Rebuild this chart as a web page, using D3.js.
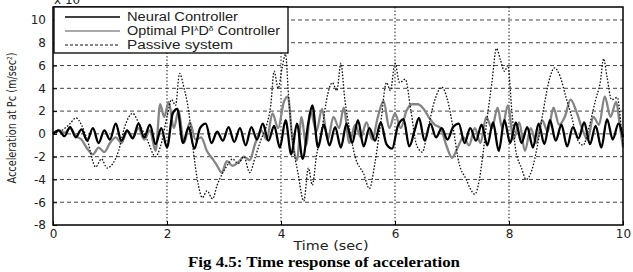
<!DOCTYPE html>
<html>
<head>
<meta charset="utf-8">
<script src="https://cdn.jsdelivr.net/npm/d3@7"></script>
<style>
  body { margin: 0; background: #fff; }
  svg { display: block; }
  .tick text { font-family: "DejaVu Sans", sans-serif; font-size: 12px; fill: #222; }
</style>
</head>
<body>
<div id="chart"></div>
<script>
// Time response of acceleration (x 10^-3)

// Tick labels
let xTicks = [0, 2, 4, 6, 8, 10];
let yTicks = [-8, -6, -4, -2, 0, 2, 4, 6, 8, 10];

// Series names
let seriesNames = ["Neural Controller", "Optimal PI", "Passive system"];

// Neural controller [time, value]
let neural = [
  [0, 0], [0.1, 0.3], [0.2, -0.2], [0.3, 0.6], [0.4, -0.3], [0.5, 0.4], [0.6, -0.6], [0.7, 0.5],
  [0.8, -0.8], [0.9, 0.3], [1.0, -0.5], [1.1, 0.9], [1.2, -0.6], [1.3, 0.3], [1.4, -0.4], [1.5, 0.9],
  [1.6, -0.3], [1.7, 0.8], [1.8, -0.9], [1.9, 0.5], [2.0, -1.2], [2.1, 1.8], [2.18, 2.2], [2.28, -0.8],
  [2.38, 0.6], [2.48, -1.3], [2.58, 0.5], [2.68, 0.9], [2.78, -0.8], [2.88, 0.2], [2.98, -0.6], [3.08, 0.6],
  [3.18, -0.7], [3.28, 0.5], [3.38, -1.0], [3.48, 0.6], [3.58, -0.5], [3.68, 0.9], [3.78, -0.6], [3.88, 0.7],
  [3.98, -1.2], [4.08, 1.2], [4.18, -1.8], [4.28, 0.9], [4.38, -2.2], [4.48, 1.0], [4.55, 2.5], [4.65, -1.2],
  [4.75, 0.8], [4.85, -1.0], [4.95, 0.6], [5.05, -1.2], [5.15, 0.9], [5.25, -0.8], [5.35, 1.2], [5.45, -1.1],
  [5.55, 0.5], [5.65, -0.6], [5.75, 1.0], [5.85, -0.9], [5.95, -1.3], [6.05, 0.7], [6.15, 1.3], [6.25, -1.1],
  [6.35, 0.4], [6.42, 1.4], [6.52, -0.6], [6.62, 0.9], [6.72, -0.3], [6.82, 0.5], [6.92, -0.5], [7.02, 0.6],
  [7.12, 0.9], [7.22, -0.8], [7.32, 0.5], [7.42, -0.6], [7.52, 0.8], [7.62, -1.0], [7.72, 1.0], [7.82, -1.5],
  [7.92, 1.2], [8.02, -0.8], [8.12, 1.0], [8.22, -0.8], [8.32, 0.6], [8.42, -1.2], [8.52, 0.9], [8.62, -0.9],
  [8.72, 1.2], [8.82, -0.6], [8.92, 0.8], [9.02, -1.1], [9.12, 0.6], [9.22, -0.4], [9.32, 1.0], [9.42, -0.9],
  [9.52, 0.7], [9.62, -1.2], [9.72, 1.3], [9.82, -0.5], [9.92, 0.9], [10, -0.3]
];

// Optimal fractional PID controller [time, value]
let optimal = [
  [0, 0], [0.1, 0.3], [0.2, 0.1], [0.3, 0.5], [0.4, -0.2], [0.5, -0.5], [0.6, -1.3], [0.7, -1.8],
  [0.8, -1.2], [0.9, -1.6], [1.0, -0.8], [1.1, -0.3], [1.2, -0.8], [1.3, 0.2], [1.4, -0.3], [1.5, 0.5],
  [1.6, -0.5], [1.7, 0.3], [1.8, -1.5], [1.88, 2.6], [1.95, 1.5], [2.03, 2.8], [2.12, 0.5], [2.2, 2.0],
  [2.3, -0.8], [2.4, 1.0], [2.5, -0.5], [2.6, -0.3], [2.7, -1.5], [2.8, -2.2], [2.88, -2.8], [2.96, -3.4],
  [3.05, -2.4], [3.15, -2.8], [3.25, -2.5], [3.35, -2.0], [3.45, -2.3], [3.55, -0.8], [3.65, 0.3], [3.75, -0.5],
  [3.85, 1.8], [3.95, 0.5], [4.05, 2.8], [4.12, 3.3], [4.2, -0.5], [4.28, -2.3], [4.36, 1.5], [4.44, -1.0],
  [4.52, 2.0], [4.62, 0.2], [4.72, 2.2], [4.82, -0.5], [4.92, 1.5], [5.02, 0.5], [5.1, 2.3], [5.2, -0.8],
  [5.3, 0.8], [5.4, -0.3], [5.5, 1.0], [5.6, -0.5], [5.7, 1.5], [5.8, 2.9], [5.9, 0.5], [6.0, 1.8],
  [6.1, 0.5], [6.2, 2.0], [6.3, 2.6], [6.4, 2.6], [6.5, 2.2], [6.6, 1.4], [6.7, 0.8], [6.8, 0.5],
  [6.9, -1.0], [7.0, -2.1], [7.1, -1.2], [7.2, -0.3], [7.3, -1.0], [7.4, 0.5], [7.5, -0.8], [7.6, 1.5],
  [7.7, 0.5], [7.8, 2.3], [7.88, 0.5], [7.98, 2.5], [8.08, -0.5], [8.18, 1.0], [8.28, -1.5], [8.38, 0.5],
  [8.48, -0.8], [8.58, 1.2], [8.68, 0.2], [8.78, 2.3], [8.88, 0.8], [8.98, 1.5], [9.08, 3.0], [9.18, 2.0],
  [9.28, 0.5], [9.38, -0.5], [9.48, 1.5], [9.58, 0.8], [9.68, 3.3], [9.78, 1.5], [9.88, 2.8], [9.95, 0.5],
  [10, -1.2]
];

// Passive system [time, value]
let passive = [
  [0, 0], [0.15, 0.3], [0.3, 0.9], [0.4, 1.4], [0.5, 0.8], [0.6, -0.5], [0.75, -2.9], [0.85, -2.2],
  [0.95, -3.0], [1.05, -2.6], [1.15, -1.5], [1.25, 0.5], [1.4, 1.8], [1.5, 1.0], [1.65, -0.5], [1.8, -2.0],
  [1.88, -1.2], [2.0, 1.5], [2.08, 3.0], [2.15, 2.5], [2.22, 5.3], [2.3, 4.0], [2.38, 2.0], [2.45, -1.0],
  [2.55, -4.5], [2.62, -5.6], [2.7, -5.0], [2.8, -5.7], [2.88, -4.5], [2.98, -3.4], [3.08, -2.6], [3.15, -2.2],
  [3.25, -2.6], [3.35, -2.0], [3.45, -3.4], [3.55, -2.0], [3.65, -0.5], [3.75, 0.8], [3.82, 2.5], [3.88, 5.5],
  [3.95, 4.0], [4.02, 5.8], [4.08, 7.0], [4.13, 3.5], [4.2, -0.5], [4.3, -3.5], [4.4, -5.9], [4.48, -3.0],
  [4.55, -4.5], [4.62, -2.0], [4.72, 0.5], [4.82, 3.5], [4.9, 4.5], [4.98, 3.8], [5.05, 6.2], [5.12, 3.0],
  [5.2, 0.5], [5.3, -2.0], [5.45, -3.5], [5.55, -4.8], [5.65, -2.5], [5.75, 1.0], [5.85, 4.5], [5.92, 3.8],
  [6.0, 6.2], [6.08, 4.5], [6.18, 4.8], [6.28, 2.0], [6.38, -1.0], [6.48, -1.6], [6.58, 0.5], [6.7, 3.0],
  [6.82, 4.1], [6.92, 3.0], [7.02, 0.5], [7.12, -2.5], [7.25, -4.0], [7.32, -4.8], [7.4, -5.3], [7.48, -4.0],
  [7.55, -1.5], [7.62, 1.5], [7.7, 4.5], [7.78, 7.5], [7.85, 6.5], [7.92, 5.5], [7.98, 6.0], [8.05, 2.0],
  [8.12, -1.5], [8.22, -3.0], [8.3, -4.0], [8.4, -3.2], [8.5, -1.0], [8.6, 2.0], [8.72, 5.0], [8.8, 5.8],
  [8.9, 5.0], [9.0, 3.2], [9.1, 1.5], [9.2, -0.5], [9.3, -1.0], [9.4, 0.5], [9.52, 3.0], [9.6, 4.5],
  [9.66, 6.6], [9.72, 5.0], [9.8, 3.0], [9.9, 3.2], [9.97, 0.5], [10, -1.0]
];

// Set up chart
let svgWidth = 633;
let svgHeight = 272;

let margin = { top: 7, right: 10, bottom: 47, left: 53 };
let width = 623 - margin.left;
let height = 225 - margin.top;

let svg = d3.select("#chart")
    .append("svg")
    .attr("width", svgWidth)
    .attr("height", svgHeight);

let chartGroup = svg.append("g")
    .attr("transform", `translate(${margin.left}, ${margin.top})`);

// Scales
let xScale = d3.scaleLinear().domain([0, 10]).range([0, width]);
let yScale = d3.scaleLinear().domain([-8, 11.14]).range([height, 0]);

// Grid lines
chartGroup.append("g")
    .selectAll("line")
    .data(yTicks.filter(d => d > -8))
    .join("line")
    .attr("x1", 0).attr("x2", width)
    .attr("y1", d => yScale(d)).attr("y2", d => yScale(d))
    .attr("stroke", "#444").attr("stroke-width", 1)
    .attr("stroke-dasharray", "4,3");

chartGroup.append("g")
    .selectAll("line")
    .data(xTicks.filter(d => d > 0 && d < 10))
    .join("line")
    .attr("x1", d => xScale(d)).attr("x2", d => xScale(d))
    .attr("y1", 0).attr("y2", height)
    .attr("stroke", "#333").attr("stroke-width", 1.1)
    .attr("stroke-dasharray", "1.5,2");

// Lines
let line = d3.line()
    .x(d => xScale(d[0]))
    .y(d => yScale(d[1]))
    .curve(d3.curveMonotoneX);

chartGroup.append("path")
    .datum(optimal)
    .attr("d", line)
    .attr("fill", "none")
    .attr("stroke", "#858585")
    .attr("stroke-width", 2.3);

chartGroup.append("path")
    .datum(neural)
    .attr("d", line)
    .attr("fill", "none")
    .attr("stroke", "#000")
    .attr("stroke-width", 2.3);

chartGroup.append("path")
    .datum(passive)
    .attr("d", line)
    .attr("fill", "none")
    .attr("stroke", "#111")
    .attr("stroke-width", 1.3)
    .attr("stroke-dasharray", "1.6,1.6");

// Axes
let bottomAxis = d3.axisBottom(xScale).tickValues(xTicks).tickSize(-4).tickPadding(4).tickFormat(d3.format("d"));
let leftAxis = d3.axisLeft(yScale).tickValues(yTicks).tickSize(-4).tickPadding(7).tickFormat(d3.format("d"));

let xAxisG = chartGroup.append("g")
    .attr("transform", `translate(0, ${height})`)
    .call(bottomAxis);
xAxisG.select(".domain").remove();
xAxisG.selectAll(".tick line").attr("stroke", "#000");

let yAxisG = chartGroup.append("g")
    .call(leftAxis);
yAxisG.select(".domain").remove();
yAxisG.selectAll(".tick line").attr("stroke", "#000");
yAxisG.selectAll(".tick text").text(d => d < 0 ? "-" + Math.abs(d) : d);

// Box
chartGroup.append("rect")
    .attr("x", 0).attr("y", 0)
    .attr("width", width).attr("height", height)
    .attr("fill", "none")
    .attr("stroke", "#000")
    .attr("stroke-width", 1.5);

// Legend
let legend = chartGroup.append("g");
legend.append("rect")
    .attr("x", 1).attr("y", 0)
    .attr("width", 234).attr("height", 46)
    .attr("fill", "#fff")
    .attr("stroke", "#000")
    .attr("stroke-width", 1.3);

let legendStyles = [
    { color: "#000", w: 1.6, dash: null, len: 111 },
    { color: "#8c8c8c", w: 1.3, dash: null, len: 153 },
    { color: "#111", w: 1, dash: "3,2", len: 106 }
];

seriesNames.forEach((name, i) => {
    let yy = 10 + i * 14;
    legend.append("line")
        .attr("x1", 12).attr("x2", 67)
        .attr("y1", yy).attr("y2", yy)
        .attr("stroke", legendStyles[i].color)
        .attr("stroke-width", legendStyles[i].w)
        .attr("stroke-dasharray", legendStyles[i].dash);
    let t = legend.append("text")
        .attr("x", 74).attr("y", yy + 4)
        .attr("font-family", "'Liberation Sans', Arial, sans-serif")
        .attr("font-size", 12)
        .attr("fill", "#222")
        .attr("textLength", legendStyles[i].len)
        .attr("lengthAdjust", "spacingAndGlyphs");
    if (i === 1) {
        t.append("tspan").text("Optimal PI");
        t.append("tspan").attr("font-size", 7).attr("dy", -4).text("λ");
        t.append("tspan").attr("dy", 4).text("D");
        t.append("tspan").attr("font-size", 7).attr("dy", -4).text("δ");
        t.append("tspan").attr("dy", 4).text(" Controller");
    } else {
        t.text(name);
    }
});

// Exponent label (cut at top edge as in the figure)
svg.append("text")
    .attr("x", 54).attr("y", 4)
    .attr("font-family", "'DejaVu Sans', sans-serif")
    .attr("font-size", 12)
    .attr("fill", "#222")
    .text("x 10");

// Axis titles
svg.append("text")
    .attr("x", 331).attr("y", 250)
    .attr("text-anchor", "middle")
    .attr("font-family", "'DejaVu Sans', sans-serif")
    .attr("font-size", 12)
    .attr("fill", "#222")
    .attr("textLength", 75)
    .attr("lengthAdjust", "spacingAndGlyphs")
    .text("Time (sec)");

let yLabel = svg.append("text")
    .attr("transform", "translate(16, 118) rotate(-90)")
    .attr("text-anchor", "middle")
    .attr("font-family", "'DejaVu Sans', sans-serif")
    .attr("font-size", 12)
    .attr("fill", "#222")
    .attr("textLength", 131)
    .attr("lengthAdjust", "spacingAndGlyphs");
yLabel.append("tspan").text("Acceleration at Pc (m/sec");
yLabel.append("tspan").attr("font-size", 7).attr("dy", -4).text("2");
yLabel.append("tspan").attr("dy", 4).text(")");

// Caption
svg.append("text")
    .attr("x", 324).attr("y", 267)
    .attr("text-anchor", "middle")
    .attr("font-family", "'Liberation Serif', 'Times New Roman', serif")
    .attr("font-weight", "bold")
    .attr("font-size", 14)
    .attr("fill", "#000")
    .attr("textLength", 272)
    .attr("lengthAdjust", "spacingAndGlyphs")
    .text("Fig 4.5: Time response of acceleration");
</script>
</body>
</html>
